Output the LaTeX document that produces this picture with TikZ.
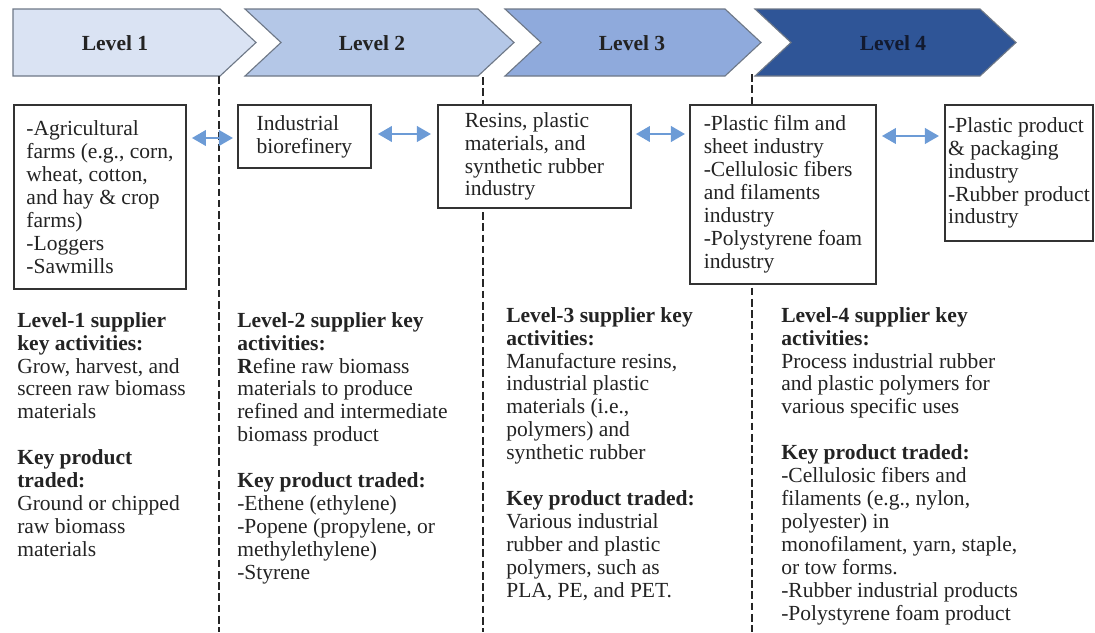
\documentclass[tikz,border=0pt]{standalone}
\usepackage{fontspec}
\setmainfont{Liberation Serif}
\usetikzlibrary{arrows.meta,calc}

\definecolor{lvlone}{RGB}{218,227,243}
\definecolor{lvltwo}{RGB}{180,199,231}
\definecolor{lvlthree}{RGB}{143,170,220}
\definecolor{lvlfour}{RGB}{47,85,151}
\definecolor{linkblue}{RGB}{108,155,214}
\definecolor{edgegray}{RGB}{110,120,135}
\definecolor{inkgray}{RGB}{35,35,35}
\definecolor{inknavy}{RGB}{18,26,48}

\newcommand{\bodyfont}{\fontsize{15.3}{16.3}\selectfont}

\tikzset{
	chevron/.style={fill=#1, draw=edgegray, line width=0.8pt},
	level/.style={inner sep=0pt, font=\bodyfont\bfseries, text=inkgray},
	box/.style={draw=black!80, line width=1.3pt, fill=white, align=left, anchor=north west, inner sep=0pt, font=\bodyfont, text=inkgray},
	notes/.style={align=left, anchor=north west, inner sep=0pt, font=\bodyfont, text=inkgray},
	link/.style={draw=linkblue, line width=1.8pt, {Triangle[length=10pt,width=11pt]}-{Triangle[length=10pt,width=11pt]}},
	divider/.style={draw=black!85, line width=0.8pt, dash pattern=on 5.5pt off 2.5pt}
}

\begin{document}
\begin{tikzpicture}[x=0.025cm, y=-0.025cm]
	\useasboundingbox (0,0) rectangle (1095,632);

	\draw [chevron=lvlone] (13,9) -- (220,9) -- (256,42.5) -- (220,76) -- (13,76) -- cycle;
	\draw [chevron=lvltwo] (245,9) -- (478,9) -- (514,42.5) -- (478,76) -- (245,76) -- (281,42.5) -- cycle;
	\draw [chevron=lvlthree] (505,9) -- (725,9) -- (761,42.5) -- (725,76) -- (505,76) -- (541,42.5) -- cycle;
	\draw [chevron=lvlfour] (755,9) -- (980,9) -- (1016,42.5) -- (980,76) -- (755,76) -- (791,42.5) -- cycle;

	\node [level] at (115,43) (l1) {Level 1};
	\node [level] at (372,43) (l2) {Level 2};
	\node [level] at (632,43) (l3) {Level 3};
	\node [level, text=inknavy] at (893,43) (l4) {Level 4};

	\coordinate (d1) at (219,76);
	\coordinate (d1b) at (219,632);
	\coordinate (d2) at (483,77);
	\coordinate (d2b) at (483,632);
	\coordinate (d3) at (752,74);
	\coordinate (d3b) at (752,632);
	\draw [divider] (d1) -- (d1b);
	\draw [divider] (d2) -- (d2b);
	\draw [divider] (d3) -- (d3b);

	\node [box, minimum width=4.3cm, minimum height=4.6cm] at (13,104) (b1) {-Agricultural\\farms (e.g., corn,\\wheat, cotton,\\and hay \& crop\\farms)\\-Loggers\\-Sawmills};
	\node [box, minimum width=3.325cm, minimum height=1.575cm] at (237,104) (b2) {Industrial\\biorefinery};
	\node [box, minimum width=4.825cm, minimum height=2.575cm] at (437,104) (b3) {Resins, plastic\\materials, and\\synthetic rubber\\industry};
	\node [box, minimum width=4.65cm, minimum height=4.475cm] at (689,104) (b4) {-Plastic film and\\sheet industry\\-Cellulosic fibers\\and filaments\\industry\\-Polystyrene foam\\industry};
	\node [box, minimum width=3.7cm, minimum height=3.4cm] at (944,104) (b5) {-Plastic product\\\& packaging\\industry\\-Rubber product\\industry};

	\draw [link] ($(b1.north east)+(5,34)$) -- ($(b2.north west)+(-4,34)$);
	\draw [link] ($(b2.north east)+(6,30)$) -- ($(b3.north west)+(-6,30)$);
	\draw [link] ($(b3.north east)+(4,30)$) -- ($(b4.north west)+(-4,30)$);
	\draw [link] ($(b4.north east)+(5,32)$) -- ($(b5.north west)+(-5,32)$);

	\node [notes] at (17,312) (n1) {\textbf{Level-1 supplier}\\\textbf{key activities:}\\Grow, harvest, and\\screen raw biomass\\materials\\[16.3pt]\textbf{Key product}\\\textbf{traded:}\\Ground or chipped\\raw biomass\\materials};
	\node [notes] at (237,312) (n2) {\textbf{Level-2 supplier key}\\\textbf{activities:}\\\textbf{R}efine raw biomass\\materials to produce\\refined and intermediate\\biomass product\\[16.3pt]\textbf{Key product traded:}\\-Ethene (ethylene)\\-Popene (propylene, or\\methylethylene)\\-Styrene};
	\node [notes] at (506,307) (n3) {\textbf{Level-3 supplier key}\\\textbf{activities:}\\Manufacture resins,\\industrial plastic\\materials (i.e.,\\polymers) and\\synthetic rubber\\[16.3pt]\textbf{Key product traded:}\\Various industrial\\rubber and plastic\\polymers, such as\\PLA, PE, and PET.};
	\node [notes] at (781,307) (n4) {\textbf{Level-4 supplier key}\\\textbf{activities:}\\Process industrial rubber\\and plastic polymers for\\various specific uses\\[16.3pt]\textbf{Key product traded:}\\-Cellulosic fibers and\\filaments (e.g., nylon,\\polyester) in\\monofilament, yarn, staple,\\or tow forms.\\-Rubber industrial products\\-Polystyrene foam product};
\end{tikzpicture}
\end{document}
